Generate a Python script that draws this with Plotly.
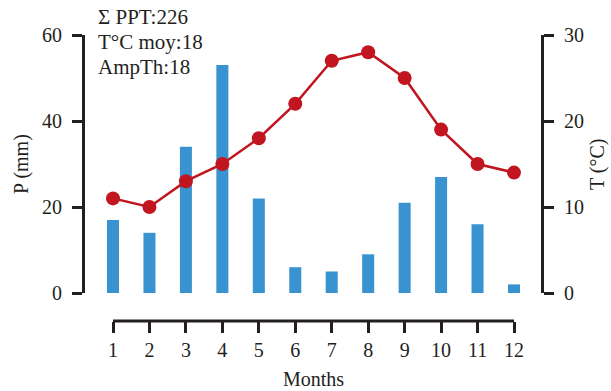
import plotly.graph_objects as go

months = [1, 2, 3, 4, 5, 6, 7, 8, 9, 10, 11, 12]
precip = [17, 14, 34, 53, 22, 6, 5, 9, 21, 27, 16, 2]
temp = [11, 10, 13, 15, 18, 22, 27, 28, 25, 19, 15, 14]
info_lines = ["Σ PPT:226", "T°C moy:18", "AmpTh:18"]

FONT = "Liberation Serif"
INK = "#231f20"
W, H = 611, 391
L, R, T, B = 83, 542, 35, 321
pw, ph = R - L, B - T
Y0 = 293
X1PX, X12PX = 113, 514
unit = (X12PX - X1PX) / 11

def px(xp):
    return (xp - L) / pw

def py(yp):
    return (B - yp) / ph

fig = go.Figure()
fig.add_trace(go.Bar(x=months, y=precip, width=0.33, marker_color="#3893d0",
                     marker_line_width=0, xaxis="x", yaxis="y", showlegend=False))
fig.add_trace(go.Scatter(x=months, y=temp, mode="lines+markers",
                         line=dict(color="#c1151f", width=2.5),
                         marker=dict(color="#c1151f", size=14),
                         xaxis="x", yaxis="y2", showlegend=False))

x0 = 1 - (X1PX - L) / unit
x1 = 12 + (R - X12PX) / unit

TF = dict(family=FONT, size=20, color=INK)
axis_common = dict(showgrid=False, zeroline=False, color=INK, tickfont=TF,
                   ticks="outside", tickwidth=3, tickcolor=INK, automargin=False)

fig.update_layout(
    width=W, height=H,
    margin=dict(l=L, r=W - R, t=T, b=H - B, pad=0, autoexpand=False),
    paper_bgcolor="white", plot_bgcolor="white",
    font=dict(family=FONT, size=20, color=INK),
    xaxis=dict(range=[x0, x1], tickvals=months, showline=False, ticklen=11,
               anchor="free", position=0, **axis_common),
    yaxis=dict(range=[0, 60], dtick=20, domain=[(B - Y0) / ph, 1],
               showline=True, linewidth=3, linecolor=INK, ticklen=10,
               anchor="free", position=0, ticklabelstandoff=6, **axis_common),
    yaxis2=dict(range=[0, 30], dtick=10, overlaying="y", side="right",
                showline=True, linewidth=3, linecolor=INK, ticklen=10,
                anchor="free", position=1, ticklabelstandoff=6, **axis_common),
)

# x axis line only between first and last month
fig.add_shape(type="line", xref="x", yref="paper", x0=months[0], x1=months[-1],
              y0=0, y1=0, line=dict(color=INK, width=3))

# axis titles
fig.add_annotation(text="P (mm)", xref="paper", yref="paper", x=px(21), y=py(164),
                   textangle=-90, showarrow=False, xanchor="center", yanchor="middle", font=TF)
fig.add_annotation(text="T (°C)", xref="paper", yref="paper", x=px(597), y=py(164),
                   textangle=-90, showarrow=False, xanchor="center", yanchor="middle", font=TF)
fig.add_annotation(text="Months", xref="paper", yref="paper", x=px(313), y=py(379),
                   showarrow=False, xanchor="center", yanchor="middle", font=TF)

for i, txt in enumerate(info_lines):
    fig.add_annotation(text=txt, xref="paper", yref="paper",
                       x=px(96), y=py(17 + 25 * i), xanchor="left", yanchor="middle",
                       showarrow=False, font=dict(family=FONT, size=21, color=INK))

fig.write_html("out.html", config={"displayModeBar": False},
               post_script="document.body.style.margin='0';document.body.style.overflow='hidden';")
